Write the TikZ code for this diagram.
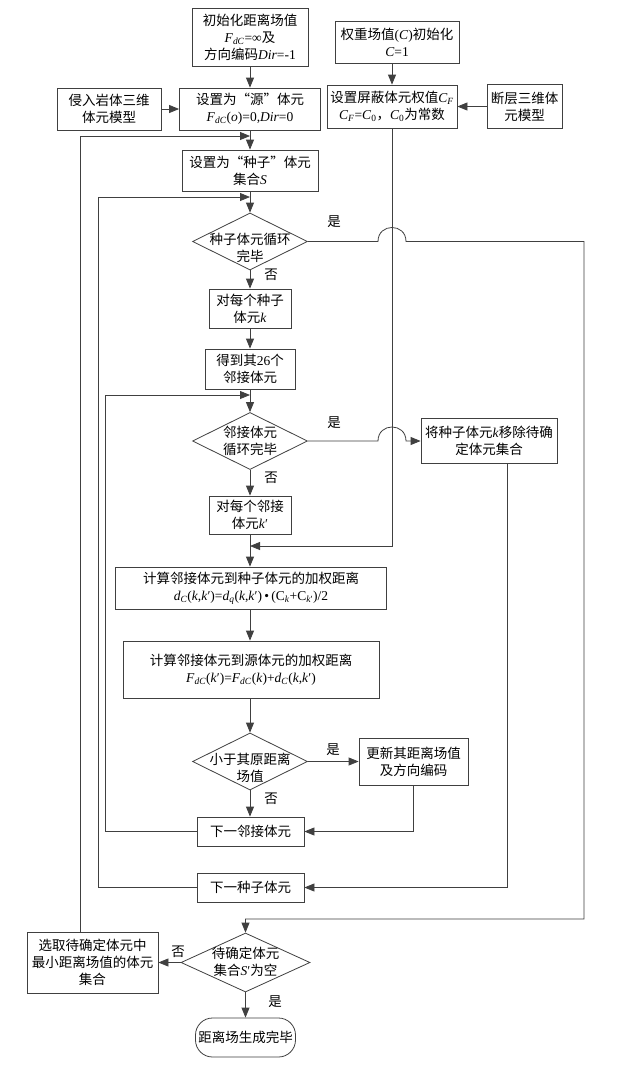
\documentclass[tikz,border=0pt]{standalone}
\usepackage{fontspec}
\setmainfont{Liberation Serif}
\newfontfamily\cjk{Noto Sans CJK SC}
\usetikzlibrary{shapes.geometric,arrows.meta}
\newcommand\zh[1]{{\cjk #1}}
\newcommand\iv[1]{\textit{#1}}
\newcommand\sbs[1]{\textsubscript{#1}}
\newcommand\fs{\fontsize{13.5}{17}\selectfont}
\tikzset{
  box/.style={draw=black!75, line width=0.8pt, inner sep=0pt, align=center, font=\fs},
  dia/.style={draw=black!75, line width=0.8pt, diamond, inner sep=0pt},
  txt/.style={inner sep=0pt, align=center, font=\fs},
  arr/.style={draw=black!75, line width=0.8pt, -{Triangle[length=10pt,width=8pt]}},
  ln/.style={draw=black!75, line width=0.8pt},
}
\begin{document}
\begin{tikzpicture}[x=1pt,y=-1pt]
\fill[white] (0,0) rectangle (618,1069);
\useasboundingbox (0,0) rectangle (618,1069);
% nodes
\node[box, minimum width=116pt, minimum height=58pt] (init) at (250,37) {\zh{初始化距离场值}\\\iv{F}\sbs{\iv{dC}}=∞\zh{及}\\\zh{方向编码}\iv{Dir}=-1};
\node[box, minimum width=124pt, minimum height=42pt] (wt) at (397,42) {\zh{权重场值}(\iv{C})\zh{初始化}\\\iv{C}=1};
\node[box, minimum width=104pt, minimum height=42pt] (intr) at (109,109) {\zh{侵入岩体三维}\\\zh{体元模型}};
\node[box, minimum width=141pt, minimum height=42pt] (src) at (250,109) {\zh{设置为“源”体元}\\\iv{F}\sbs{\iv{dC}}(\iv{o})=0,\iv{Dir}=0};
\node[box, minimum width=130pt, minimum height=43pt] (sh) at (392,106.5) {\zh{设置屏蔽体元权值}\iv{C}\sbs{\iv{F}}\\\iv{C}\sbs{\iv{F}}=\iv{C}\sbs{0}\zh{，}\iv{C}\sbs{0}\zh{为常数}};
\node[box, minimum width=75pt, minimum height=44pt] (flt) at (524.5,106.5) {\zh{断层三维体}\\\zh{元模型}};
\node[box, minimum width=136pt, minimum height=41pt] (seed) at (250,170.5) {\zh{设置为“种子”体元}\\\zh{集合}\iv{S}};
\node[dia, minimum width=115pt, minimum height=57pt] (d1) at (250,241.5) {};
\node[txt] (d1t) at (250,248) {\zh{种子体元循环}\\\zh{完毕}};
\node[box, minimum width=82pt, minimum height=39pt] (bk) at (250,308.5) {\zh{对每个种子}\\\zh{体元}\iv{k}};
\node[box, minimum width=90pt, minimum height=40pt] (b26) at (250,369) {\zh{得到其}26\zh{个}\\\zh{邻接体元}};
\node[dia, minimum width=115pt, minimum height=57pt] (d2) at (250,441) {};
\node[txt] (d2t) at (250,441) {\zh{邻接体元}\\\zh{循环完毕}};
\node[box, minimum width=136pt, minimum height=45pt] (rm) at (489,441) {\zh{将种子体元}\iv{k}\zh{移除待确}\\\zh{定体元集合}};
\node[box, minimum width=82pt, minimum height=38pt] (bk2) at (250,515) {\zh{对每个邻接}\\\zh{体元}\iv{k}′};
\node[box, minimum width=271pt, minimum height=42pt] (b1) at (251,588) {\zh{计算邻接体元到种子体元的加权距离}\\\iv{d}\sbs{\iv{C}}(\iv{k},\iv{k}′)=\iv{d}\sbs{\iv{q}}(\iv{k},\iv{k}′)\,•\,(C\sbs{\iv{k}}+C\sbs{\iv{k}′})/2};
\node[box, minimum width=256pt, minimum height=57pt] (b2) at (251,669.5) {\zh{计算邻接体元到源体元的加权距离}\\\iv{F}\sbs{\iv{dC}}(\iv{k}′)=\iv{F}\sbs{\iv{dC}}(\iv{k})+\iv{d}\sbs{\iv{C}}(\iv{k},\iv{k}′)};
\node[dia, minimum width=115pt, minimum height=57pt] (d3) at (250,761.5) {};
\node[txt] (d3t) at (250,768) {\zh{小于其原距离}\\\zh{场值}};
\node[box, minimum width=109pt, minimum height=47pt] (upd) at (413.5,761.5) {\zh{更新其距离场值}\\\zh{及方向编码}};
\node[box, minimum width=107pt, minimum height=29pt] (nn) at (250.5,831.5) {\zh{下一邻接体元}};
\node[box, minimum width=107pt, minimum height=29pt] (ns) at (250.5,887.5) {\zh{下一种子体元}};
\node[dia, minimum width=129pt, minimum height=59pt] (d4) at (245.5,962.5) {};
\node[txt] (d4t) at (245.5,962) {\zh{待确定体元}\\\zh{集合}\iv{S}′\zh{为空}};
\node[box, minimum width=131pt, minimum height=61pt] (sel) at (92.5,962.5) {\zh{选取待确定体元中}\\\zh{最小距离场值的体元}\\\zh{集合}};
\node[box, minimum width=100pt, minimum height=39pt, rounded corners=17pt] (term) at (245.5,1037.5) {\zh{距离场生成完毕}};
% yes/no labels
\node[txt] (y1) at (334,222) {\zh{是}};
\node[txt] (n1) at (271,275) {\zh{否}};
\node[txt] (y2) at (334,423) {\zh{是}};
\node[txt] (n2) at (271,478) {\zh{否}};
\node[txt] (y3) at (333,750) {\zh{是}};
\node[txt] (n3) at (271,799) {\zh{否}};
\node[txt] (n4) at (178,952) {\zh{否}};
\node[txt] (y4) at (275,1002) {\zh{是}};
% junction coordinates
\coordinate (j1) at (250,136);
\coordinate (j2) at (250,197);
\coordinate (j3) at (250,395);
\coordinate (j4) at (250,546);
% main chain
\draw[arr] (init) -- (src);
\draw[arr] (intr) -- (src);
\draw[arr] (wt.south -| sh.north) -- (sh.north);
\draw[arr] (flt.west |- sh.east) -- (sh.east);
\draw[arr] (src) -- (seed);
\draw[arr] (seed) -- (d1);
\draw[arr] (d1) -- (bk);
\draw[arr] (bk) -- (b26);
\draw[arr] (b26) -- (d2);
\draw[arr] (d2) -- (bk2);
\draw[arr] (bk2.south) -- (bk2.south |- b1.north);
\draw[arr] (b1.south -| d1.south) -- (b2.north -| d1.south);
\draw[arr] (b2.south -| d3.south) -- (d3.north);
\draw[arr] (d3) -- (nn.north -| d3.south);
\draw[arr] (d3) -- (upd);
\draw[arr] (upd.south) |- (nn.east);
\draw[arr] ([xshift=18pt]rm.south) |- (ns.east);
\draw[arr] (sh.south) |- (j4);
% loops
\draw[arr] ([xshift=-12.5pt]sel.north) -- (80,136) -- (j1);
\draw[arr] (ns.west) -| (98,197) -- (j2);
\draw[arr] (nn.west) -| (105,395) -- (j3);
% yes branches with jumps
\draw[arr] (d1.east) -- (378,241.5) .. controls (378,222.8) and (406,222.8) .. (406,241.5) -- (584,241.5) -- (584,919) -- (245.5,919) -- (d4.north);
\draw[arr] (d2.east) -- (378,441) .. controls (378,422.3) and (406,422.3) .. (406,441) -- (rm.west);
\draw[arr] (d4) -- (sel);
\draw[arr] (d4) -- (term);
\end{tikzpicture}
\end{document}
